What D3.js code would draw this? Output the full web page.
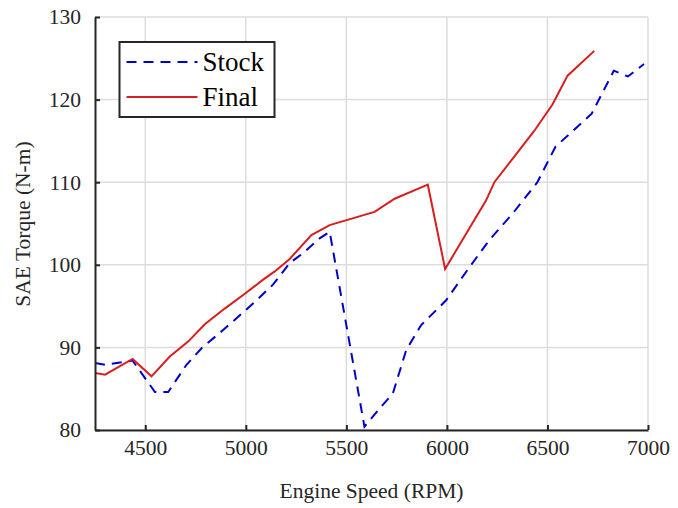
<!DOCTYPE html>
<html>
<head>
<meta charset="utf-8">
<script src="https://cdn.jsdelivr.net/npm/d3@7"></script>
<style>
  body { margin: 0; background: #fff; }
  svg { display: block; font-family: "Liberation Serif", "Times New Roman", serif; }
</style>
</head>
<body>
<svg id="chart" width="678" height="508"></svg>
<script>
// Data
const stockRpm = [4250, 4300, 4437, 4548, 4614, 4705, 4780, 4887, 4962, 5053, 5135, 5218, 5284, 5367, 5417,
  5590, 5665, 5731, 5798, 5872, 5996, 6103, 6211, 6330, 6450, 6540, 6720, 6830, 6900, 6980];
const stockTorque = [88.1, 87.9, 88.4, 84.6, 84.6, 87.9, 89.9, 92.1, 93.7, 95.7, 97.6, 100.2, 101.4, 103.2, 104.0,
  80.4, 82.6, 84.4, 89.7, 92.7, 95.7, 99.4, 103.0, 106.3, 110.0, 114.3, 118.3, 123.5, 122.8, 124.3];

const finalRpm = [4250, 4300, 4437, 4531, 4622, 4713, 4796, 4895, 4995, 5086, 5144, 5218, 5326, 5417, 5640,
  5740, 5905, 5991, 6195, 6236, 6335, 6434, 6525, 6600, 6733];
const finalTorque = [86.9, 86.7, 88.6, 86.5, 88.9, 90.7, 92.8, 94.7, 96.5, 98.2, 99.2, 100.7, 103.6, 104.8, 106.4,
  108.0, 109.7, 99.5, 107.8, 110.0, 113.1, 116.2, 119.4, 122.9, 125.9];

const xTicks = [4500, 5000, 5500, 6000, 6500, 7000];
const yTicks = [80, 90, 100, 110, 120, 130];

const series = [
  { name: 'Stock', x: stockRpm, y: stockTorque, color: '#0000cc', dash: '10,7' },
  { name: 'Final', x: finalRpm, y: finalTorque, color: '#d81e1e', dash: null }
];

const svg = d3.select('#chart');
const margin = { left: 95, right: 30, top: 17, bottom: 78 };
const width = 678 - margin.left - margin.right;
const height = 508 - margin.top - margin.bottom;

const x = d3.scaleLinear().domain([4250, 7000]).range([0, width]);
const y = d3.scaleLinear().domain([80, 130]).range([height, 0]);

const g = svg.append('g').attr('transform', `translate(${margin.left},${margin.top})`);

// Grid
g.append('g').selectAll('line').data(xTicks).enter().append('line')
  .attr('x1', d => x(d)).attr('x2', d => x(d))
  .attr('y1', 0).attr('y2', height)
  .attr('stroke', '#dcdcdc').attr('stroke-width', 1.5);
g.append('g').selectAll('line').data(yTicks).enter().append('line')
  .attr('x1', 0).attr('x2', width)
  .attr('y1', d => y(d)).attr('y2', d => y(d))
  .attr('stroke', '#dcdcdc').attr('stroke-width', 1.5);

// Lines
svg.append('defs').append('clipPath').attr('id', 'clip')
  .append('rect').attr('y', -2).attr('width', width).attr('height', height + 2);

series.forEach(s => {
  const pts = s.x.map((v, i) => [v, s.y[i]]);
  g.append('path')
    .datum(pts)
    .attr('clip-path', 'url(#clip)')
    .attr('fill', 'none')
    .attr('stroke', s.color)
    .attr('stroke-width', 2)
    .attr('stroke-dasharray', s.dash)
    .attr('d', d3.line().x(d => x(d[0])).y(d => y(d[1])));
});

// Axes
const xAxis = g.append('g')
  .attr('transform', `translate(0,${height})`)
  .call(d3.axisBottom(x).tickValues(xTicks).tickFormat(d3.format('d'))
    .tickSizeInner(-5).tickSizeOuter(0).tickPadding(10));
const yAxis = g.append('g')
  .call(d3.axisLeft(y).tickValues(yTicks).tickFormat(d3.format('d'))
    .tickSizeInner(-5).tickSizeOuter(0).tickPadding(14));

[xAxis, yAxis].forEach(a => {
  a.select('.domain').attr('stroke', '#262626').attr('stroke-width', 2);
  a.selectAll('.tick line').attr('stroke', '#262626').attr('stroke-width', 2);
  a.selectAll('.tick text')
    .attr('fill', '#262626')
    .attr('font-size', '21.5px')
    .attr('font-family', '"Liberation Serif", "Times New Roman", serif');
});
xAxis.selectAll('.tick text').attr('dy', '0.71em');

// Axis labels
svg.append('text')
  .attr('x', margin.left + width / 2)
  .attr('y', 498)
  .attr('text-anchor', 'middle')
  .attr('font-size', '21.5px')
  .attr('fill', '#262626')
  .text('Engine Speed (RPM)');

svg.append('text')
  .attr('transform', 'translate(30,224) rotate(-90)')
  .attr('text-anchor', 'middle')
  .attr('font-size', '21.5px')
  .attr('fill', '#262626')
  .text('SAE Torque (N-m)');

// Legend
const legend = svg.append('g').attr('transform', 'translate(119.5,42)');
legend.append('rect')
  .attr('width', 155).attr('height', 75)
  .attr('fill', '#fff')
  .attr('stroke', '#262626').attr('stroke-width', 2);

series.forEach((s, i) => {
  const ly = 20 + i * 35;
  legend.append('line')
    .attr('x1', 7).attr('x2', 78)
    .attr('y1', ly).attr('y2', ly)
    .attr('stroke', s.color)
    .attr('stroke-width', 2)
    .attr('stroke-dasharray', s.dash);
  legend.append('text')
    .attr('x', 83).attr('y', ly)
    .attr('dy', '0.35em')
    .attr('font-size', '27px')
    .attr('fill', '#000')
    .text(s.name);
});
</script>
</body>
</html>
